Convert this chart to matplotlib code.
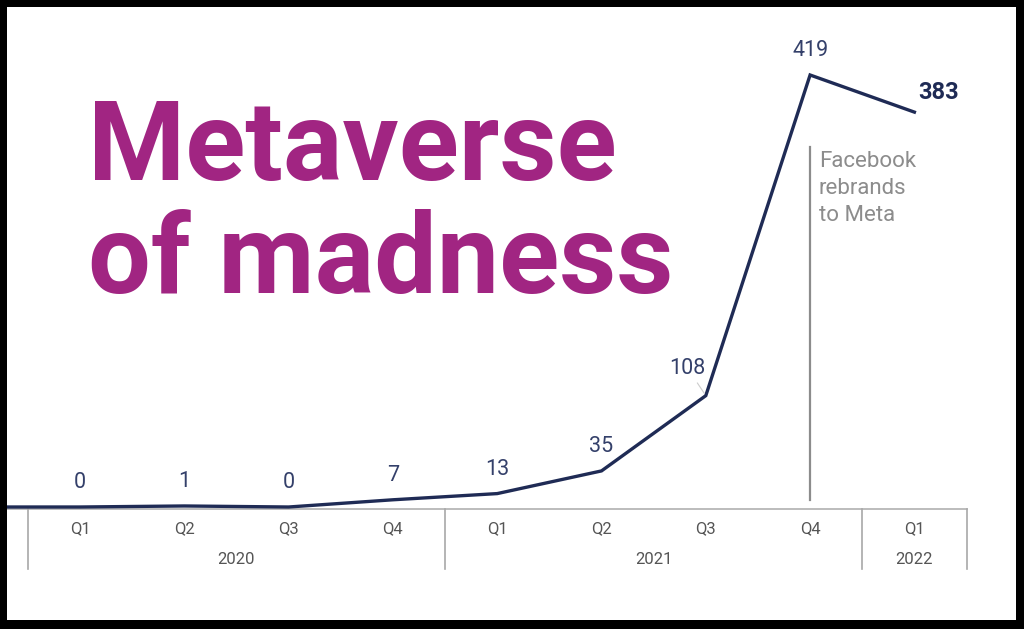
import matplotlib
matplotlib.use("Agg")
import matplotlib.pyplot as plt

plt.rcParams['font.family'] = ['Roboto', 'DejaVu Sans']

# ---- data ----
quarters = ["Q1", "Q2", "Q3", "Q4", "Q1", "Q2", "Q3", "Q4", "Q1"]
years = ["2020", "2021", "2022"]
year_spans = [(0, 3), (4, 7), (8, 8)]
values = [0, 1, 0, 7, 13, 35, 108, 419, 383]
lead_in_value = 0          # line continues flat off the left edge
labels = ["0", "1", "0", "7", "13", "35", "108", "419", "383"]
event_index = 7
event_text = "Facebook\nrebrands\nto Meta"
title_lines = ["Metaverse", "of madness"]

W, H = 1024, 629
fig = plt.figure(figsize=(W / 100, H / 100), dpi=100, facecolor="black")

# white panel inside black frame
left_px, right_px, top_px, bottom_px = 7, 1016, 7, 620
ax = fig.add_axes([left_px / W, (H - bottom_px) / H,
                   (right_px - left_px) / W, (bottom_px - top_px) / H])
ax.set_facecolor("white")
for s in ax.spines.values():
    s.set_visible(False)
ax.set_xticks([])
ax.set_yticks([])

step = 104.3
x0_px = 80
ax.set_xlim((left_px - x0_px) / step, (right_px - x0_px) / step)
ppu = 432 / 419.0
zero_px_from_top = 507
ax.set_ylim(-(bottom_px - zero_px_from_top) / ppu, (zero_px_from_top - top_px) / ppu)

line_color = "#1f2b55"
label_color = "#34406a"

xs = list(range(len(values)))
ax.plot([-1] + xs, [lead_in_value] + values, color=line_color, lw=2.4,
        solid_joinstyle="miter", zorder=3)

def py(px_from_top):
    return (zero_px_from_top - px_from_top) / ppu

# axis baseline
ax.plot([-1, 8.5], [py(509), py(509)], color="#b0b0b0", lw=1.2, zorder=1)

# separators
for xsep in [-0.5, 3.5, 7.5, 8.5]:
    ax.plot([xsep, xsep], [py(509), py(569)], color="#a8a8a8", lw=1.2)

for i, q in enumerate(quarters):
    ax.text(i, py(529), q, ha="center", va="center", fontsize=12, color="#555555")
for y, (a, b) in zip(years, year_spans):
    ax.text((a + b) / 2, py(560), y, ha="center", va="center", fontsize=12, color="#555555")

# value labels
for i, (v, lab) in enumerate(zip(values, labels)):
    if i == len(values) - 1:
        ax.annotate(lab, (i, v), xytext=(3, 5.5), textcoords="offset points",
                    ha="left", va="bottom", fontsize=17, fontweight="bold",
                    color="#1f2b55")
    elif i == 6:
        ax.annotate(lab, (i, v), xytext=(-13, 12), textcoords="offset points",
                    ha="center", va="bottom", fontsize=15.5, color=label_color,
                    arrowprops=dict(arrowstyle="-", color="#cccccc", lw=0.8,
                                    shrinkA=1, shrinkB=2))
    else:
        ax.annotate(lab, (i, v), xytext=(0, 10), textcoords="offset points",
                    ha="center", va="bottom", fontsize=15.5, color=label_color)

# event marker
ax.plot([event_index, event_index], [py(147), py(500)], color="#8c8c8c", lw=1.6, zorder=2)
ax.text(event_index + 0.085, py(151), event_text, ha="left", va="top",
        fontsize=16, color="#8c8c8c", linespacing=1.37)

# title
title_color = "#a12582"
fig.text(88 / W, (H - 180) / H, title_lines[0], ha="left", va="baseline",
         fontsize=80, fontweight="bold", color=title_color)
fig.text(88 / W, (H - 293) / H, title_lines[1], ha="left", va="baseline",
         fontsize=80, fontweight="bold", color=title_color)

fig.savefig("out.png", dpi=100, facecolor=fig.get_facecolor())
